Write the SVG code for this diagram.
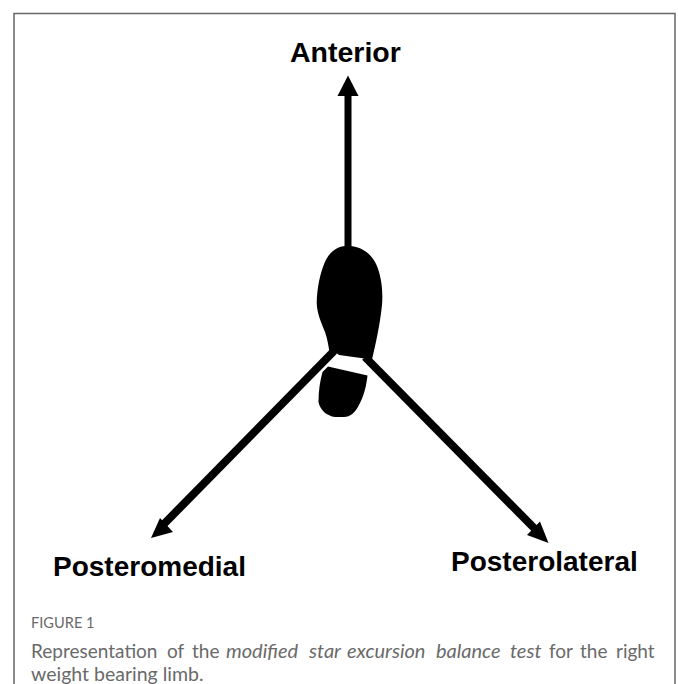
<svg xmlns="http://www.w3.org/2000/svg" width="678" height="684" viewBox="0 0 678 684">
<style>
.lab{font-family:"Liberation Sans",Arial,sans-serif;font-weight:700;font-size:28px;fill:#000}
.cap{font-family:"Lato","Open Sans",sans-serif;fill:#6a6a6a}
.conn{stroke:#000;stroke-width:7;fill:none}
.diag{stroke-width:8}
.head{fill:#000}
.it{font-style:italic;font-size:20px}
</style>
<rect width="678" height="684" fill="#fff"/>
<path d="M14 684V13.500H675V684" fill="none" stroke="#666" stroke-width="1.500"/>
<g id="connectors">
<path class="conn" d="M348 246V92"/>
<path class="head" d="M348 75.500L358.500 96H337.500Z"/>
<path class="conn diag" d="M334 351L163 525"/>
<path class="head" d="M151 538L173 532L160 518Z"/>
<path class="conn diag" d="M365 357L536 530"/>
<path class="head" d="M548.500 543L540 521.500L527 535Z"/>
</g>
<g id="foot">
<path class="head" d="M347.700 245.700C337 245.700 329 252 324.500 263C320 274 317 288 316.700 303C317 314 322 324 325 332C327.500 339 328.500 346 329.500 352.500C333 353.500 336 352 339 355L372 359.500C375 347 380 325 382 305C383.500 287 380 271 375 262C369 251 358 245.700 347.700 245.700Z"/>
<path class="head" d="M322.500 372L328 366.500L367.500 375.500C366.500 385 364 396 359 405C355 413 350 417 344 417L335 417C327 416 320 410 318.500 402C318.500 391 320 381 322.500 372Z"/>
</g>
<g id="anterior"><text class="lab" x="290" y="62" style="font-size:28.500px">Anterior</text></g>
<g id="posteromedial"><text class="lab" x="53" y="576">Posteromedial</text></g>
<g id="posterolateral"><text class="lab" x="451" y="571">Posterolateral</text></g>
<g id="caption">
<text class="cap" x="31" y="628" font-size="14.600">FIGURE 1</text>
<text class="cap" y="658" font-size="19"><tspan x="31">Representation</tspan> <tspan x="167">of</tspan> <tspan x="192">the</tspan> <tspan x="226" class="it">modified</tspan> <tspan x="309" class="it">star</tspan> <tspan x="347" class="it">excursion</tspan> <tspan x="436" class="it">balance</tspan> <tspan x="510" class="it">test</tspan> <tspan x="549">for</tspan> <tspan x="580">the</tspan> <tspan x="616">right</tspan></text>
<text class="cap" x="31" y="681" font-size="19.500">weight bearing limb.</text>
</g>
</svg>
